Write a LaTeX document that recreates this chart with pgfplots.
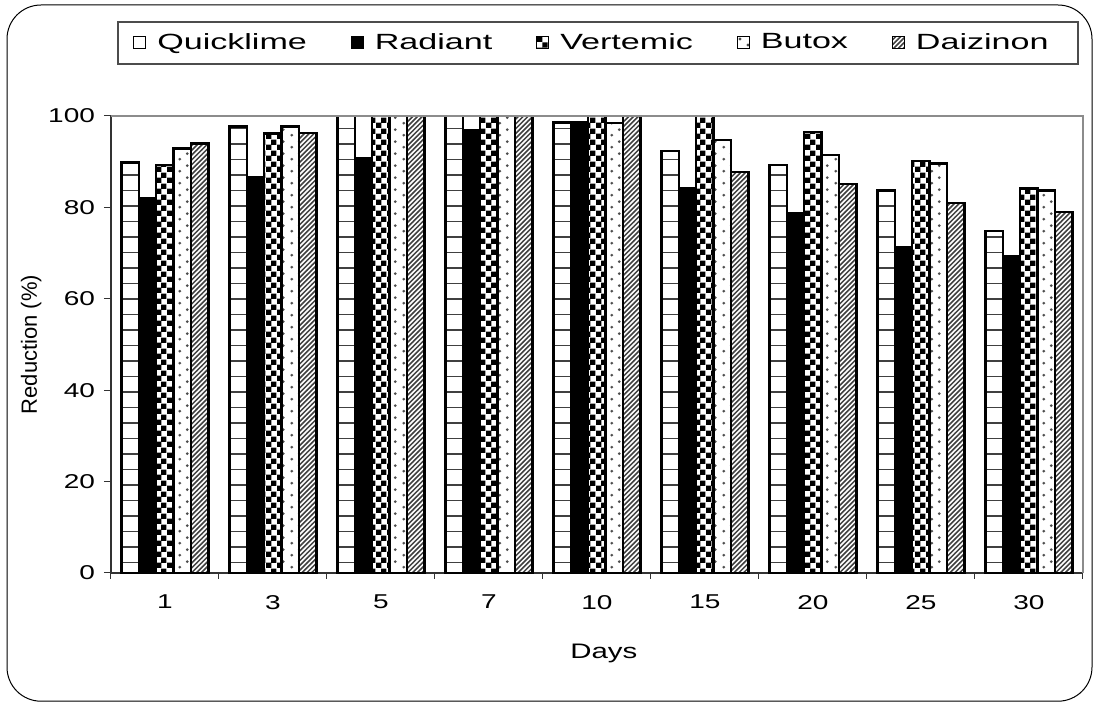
\documentclass[border=0pt]{standalone}
\usepackage{fontspec}
\setmainfont{Liberation Sans}[FakeStretch=1.4]
\newfontfamily\legfont{Liberation Sans}[FakeStretch=1.55]
\newfontfamily\ylabfont{Liberation Sans}
\usepackage{pgfplots}
\pgfplotsset{compat=1.18}
\usetikzlibrary{patterns}

% bar fills
\pgfdeclarepatternformonly{myhlines}{\pgfqpoint{0pt}{-1pt}}{\pgfqpoint{4pt}{1pt}}{\pgfqpoint{4pt}{7.75pt}}{%
  \pgfsetlinewidth{0.9pt}
  \pgfpathmoveto{\pgfqpoint{-0.1pt}{0pt}}\pgfpathlineto{\pgfqpoint{4.1pt}{0pt}}
  \pgfusepath{stroke}}
\pgfdeclarepatternformonly{mychecker}{\pgfpointorigin}{\pgfqpoint{5.6pt}{5.6pt}}{\pgfqpoint{5.6pt}{5.6pt}}{%
  \pgfpathrectangle{\pgfpointorigin}{\pgfqpoint{2.85pt}{2.85pt}}
  \pgfpathrectangle{\pgfqpoint{2.8pt}{2.8pt}}{\pgfqpoint{2.8pt}{2.8pt}}
  \pgfusepath{fill}}
\pgfdeclarepatternformonly{mydots}{\pgfpointorigin}{\pgfqpoint{8pt}{6pt}}{\pgfqpoint{8pt}{6pt}}{%
  \pgfpathcircle{\pgfqpoint{2pt}{1.5pt}}{0.8pt}
  \pgfpathcircle{\pgfqpoint{6pt}{4.5pt}}{0.8pt}
  \pgfusepath{fill}}
\pgfdeclarepatternformonly{mydiag}{\pgfqpoint{-1pt}{-1pt}}{\pgfqpoint{3.4pt}{3.4pt}}{\pgfqpoint{2.4pt}{2.4pt}}{%
  \pgfsetlinewidth{0.75pt}
  \pgfpathmoveto{\pgfqpoint{0pt}{0pt}}\pgfpathlineto{\pgfqpoint{2.5pt}{2.5pt}}
  \pgfusepath{stroke}}

\begin{document}
\begin{tikzpicture}
\useasboundingbox (0,0) rectangle (547pt,351pt);
% outer frame and legend box
\draw[rounded corners=17pt, line width=0.5pt] (3.5pt,0.4pt) rectangle (546pt,348.5pt);
\draw[black!70, line width=0.6pt] (59pt,319pt) rectangle (539pt,340pt);

\begin{axis}[
    at={(55.5pt,64.5pt)}, anchor=south west,
    scale only axis, width=486pt, height=228.5pt,
    ybar=0pt, bar width=8.7pt,
    xmin=-0.5, xmax=8.5, ymin=0, ymax=100,
    enlargelimits=false, clip=false,
    axis x line*=bottom, axis y line*=left,
    axis line style={-, black!80, line width=0.6pt},
    xtick={0,...,8},
    xticklabels={1,3,5,7,10,15,20,25,30},
    major x tick style={draw=none},
    minor xtick={-0.5,0.5,...,8.5},
    ytick={0,20,...,100},
    tick align=outside,
    major tick length=3.5pt, minor tick length=3pt,
    tick style={black!80, line width=0.5pt},
    /pgf/number format/assume math mode=true,
    tick label style={font=\fontsize{10}{12}\selectfont},
    xticklabel style={yshift=-4pt},
    yticklabel style={xshift=-1pt},
    xlabel={Days},
    xlabel style={font=\fontsize{10.5}{12}\selectfont, at={(axis description cs:0.507,-0.175)}, anchor=center},
    ylabel={Reduction (\%)},
    ylabel style={font=\ylabfont\fontsize{11}{13}\selectfont, at={(axis description cs:-0.082,0.5)}, anchor=center},
    legend columns=5,
    legend style={draw=none, fill=none, at={(0.0226,1.16)}, anchor=west,
        inner sep=0pt, font=\legfont\fontsize{11}{13}\selectfont,
        /tikz/every odd column/.append style={column sep=3.5pt},
        /tikz/every even column/.append style={column sep=20pt}},
    legend cell align=left,
    after end axis/.code={
        \draw[black!45, line width=0.8pt] (rel axis cs:0,1) -- (rel axis cs:1,1) -- (rel axis cs:1,0);
    },
]
\pgfplotsset{every axis plot/.append style={
    legend image code/.code={\draw[##1, line width=0.45pt] (0pt,-3pt) rectangle (6pt,3pt);}}}

% Quicklime
\addplot[draw=black, line width=1.2pt, pattern=myhlines, pattern color=black!75]
  coordinates {(0,89.8) (1,97.7) (2,100) (3,100) (4,98.6) (5,92.4) (6,89.3) (7,83.7) (8,74.8)};
% Radiant
\addplot[draw=black, line width=1.2pt, fill=black]
  coordinates {(0,82.0) (1,86.6) (2,90.7) (3,96.8) (4,98.6) (5,84.2) (6,78.8) (7,71.4) (8,69.4)};
% Vertemic
\addplot[draw=black, line width=1.2pt, pattern=mychecker, pattern color=black]
  coordinates {(0,89.3) (1,96.2) (2,100) (3,100) (4,100) (5,100) (6,96.5) (7,90.2) (8,84.1)};
% Butox
\addplot[draw=black, line width=1.2pt, pattern=mydots, pattern color=black!70]
  coordinates {(0,92.9) (1,97.7) (2,100) (3,100) (4,98.5) (5,94.7) (6,91.5) (7,89.6) (8,83.7)};
% Daizinon
\addplot[draw=black, line width=1.2pt, pattern=mydiag, pattern color=black!75]
  coordinates {(0,94.0) (1,96.3) (2,100) (3,100) (4,100) (5,87.8) (6,85.1) (7,80.9) (8,79.0)};
\legend{Quicklime,Radiant,Vertemic,Butox,Daizinon}
\end{axis}
\end{tikzpicture}
\end{document}
